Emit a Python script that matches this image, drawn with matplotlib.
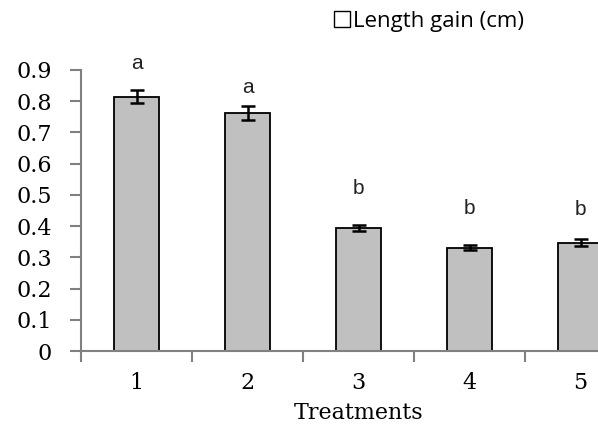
import matplotlib.pyplot as plt
from matplotlib.patches import Patch
import numpy as np

treatments = ['1', '2', '3', '4', '5']
gain = [0.815, 0.762, 0.394, 0.331, 0.347]
err = [0.021, 0.022, 0.011, 0.008, 0.011]
letters = ['a', 'a', 'b', 'b', 'b']
letter_y = [0.92, 0.845, 0.52, 0.458, 0.452]

fig = plt.figure(figsize=(5.98, 4.26), dpi=100)
ax = fig.add_axes([81/598, 1-351/426, 555/598, (351-70)/426])

x = np.arange(len(treatments))
ax.bar(x, gain, width=0.4, color='#c0c0c0', edgecolor='black', linewidth=1.3)
ax.errorbar(x, gain, yerr=err, fmt='none', ecolor='black', elinewidth=1.8,
            capsize=5, capthick=1.8)
for xi, ly, l in zip(x, letter_y, letters):
    ax.text(xi, ly, l, ha='center', va='center', fontsize=15,
            family='Liberation Sans', color='#222222')

ax.set_xlim(-0.5, 4.5)
ax.set_ylim(0, 0.9)
ax.set_yticks(np.arange(0, 0.91, 0.1))
ax.set_yticklabels(['0'] + ['%.1f' % v for v in np.arange(0.1, 0.91, 0.1)],
                   family='DejaVu Serif', fontsize=16)
ax.set_xticks(x)
ax.set_xticklabels(treatments, family='DejaVu Serif', fontsize=16)
ax.set_xticks(np.arange(-0.5, 4.6, 1), minor=True)
ax.tick_params(axis='x', which='major', length=0, pad=15)
ax.tick_params(axis='x', which='minor', length=8, width=1.5, color='gray', direction='out')
ax.tick_params(axis='y', length=8, width=1.5, color='gray', direction='out', pad=13)
for s in ['top', 'right']:
    ax.spines[s].set_visible(False)
for s in ['left', 'bottom']:
    ax.spines[s].set_color('gray')
    ax.spines[s].set_linewidth(1.5)
ax.set_xlabel('Treatments', family='DejaVu Serif', fontsize=16, labelpad=6)

fig.legend(handles=[Patch(facecolor='white', edgecolor='black', label='Length gain (cm)')],
           loc='center left', bbox_to_anchor=(314/598, 1-21/426), frameon=False,
           prop={'family': 'Open Sans', 'size': 16}, handlelength=0.7,
           handleheight=0.7, handletextpad=0.15)

fig.savefig('out.png', dpi=100)
